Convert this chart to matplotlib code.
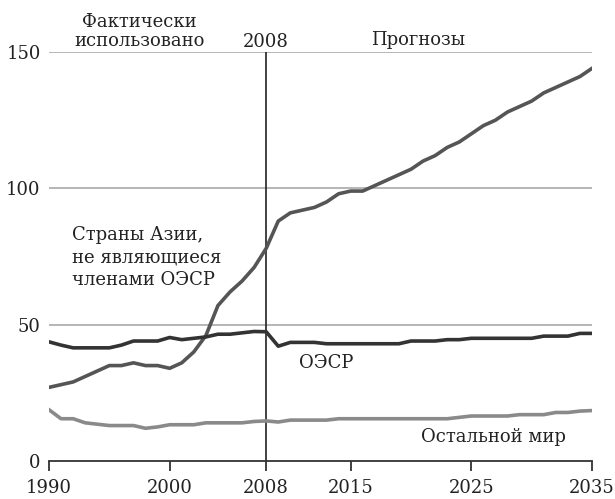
import matplotlib
matplotlib.use("Agg")
import matplotlib.pyplot as plt

years = list(range(1990, 2036))
asia = [27, 28, 29, 31, 33, 35, 35, 36, 35, 35,
        34, 36, 40, 46, 57, 62, 66, 71, 78, 88,
        91, 92, 93, 95, 98, 99, 99, 101, 103, 105,
        107, 110, 112, 115, 117, 120, 123, 125, 128, 130,
        132, 135, 137, 139, 141, 144]
oecd = [43.7, 42.5, 41.5, 41.5, 41.5, 41.5, 42.5, 44, 44, 44,
        45.3, 44.5, 45, 45.5, 46.5, 46.5, 47, 47.5, 47.4, 42.1,
        43.5, 43.5, 43.5, 43, 43, 43, 43, 43, 43, 43,
        44, 44, 44, 44.5, 44.5, 45, 45, 45, 45, 45,
        45, 45.8, 45.8, 45.8, 46.8, 46.8]
rest = [18.8, 15.5, 15.5, 14, 13.5, 13, 13, 13, 12, 12.5,
        13.3, 13.3, 13.3, 14, 14, 14, 14, 14.5, 14.7, 14.3,
        15, 15, 15, 15, 15.5, 15.5, 15.5, 15.5, 15.5, 15.5,
        15.5, 15.5, 15.5, 15.5, 16, 16.5, 16.5, 16.5, 16.5, 17,
        17, 17, 17.8, 17.8, 18.3, 18.5]
xticks = [1990, 2000, 2008, 2015, 2025, 2035]
yticks = [0, 50, 100, 150]

plt.rcParams['font.family'] = ['DejaVu Serif']
fs = 13

fig = plt.figure(figsize=(6.15, 4.99), dpi=100)
ax = fig.add_axes([49/615, 38/499, (592-49)/615, (461-52)/499])
ax.set_xlim(1990, 2035)
ax.set_ylim(0, 150)

for y in [50, 100, 150]:
    ax.axhline(y, color='#b0b0b0', lw=1.3, zorder=1)
ax.plot([2008, 2008], [0, 150], color='#222222', lw=1.2, zorder=2)

ax.plot(years, rest, color='#8a8a8a', lw=2.6, zorder=3, solid_joinstyle='round')
ax.plot(years, asia, color='#555555', lw=2.6, zorder=4, solid_joinstyle='round')
ax.plot(years, oecd, color='#333333', lw=2.6, zorder=5, solid_joinstyle='round')

for s in ['top', 'right', 'left']:
    ax.spines[s].set_visible(False)
ax.spines['bottom'].set_color('#333333')
ax.spines['bottom'].set_linewidth(1.3)
ax.set_xticks(xticks)
ax.set_xticklabels([str(t) for t in xticks], fontsize=fs, color='#222222')
ax.tick_params(axis='x', direction='out', length=7, width=1.3, color='#333333', pad=6)
ax.set_yticks(yticks)
ax.set_yticklabels([str(t) for t in yticks], fontsize=fs, color='#222222')
ax.tick_params(axis='y', length=0, pad=6)

tc = '#222222'
ax.text(1997.5, 150.8, 'Фактически\nиспользовано', ha='center', va='bottom', fontsize=fs, color=tc, linespacing=1.05)
ax.text(2008, 150.5, '2008', ha='center', va='bottom', fontsize=fs, color=tc)
ax.text(2020.6, 151, 'Прогнозы', ha='center', va='bottom', fontsize=fs, color=tc)
ax.text(1991.9, 74.7, 'Страны Азии,\nне являющиеся\nчленами ОЭСР', ha='left', va='center', fontsize=fs, color=tc, linespacing=1.3)
ax.text(2012.95, 35.9, 'ОЭСР', ha='center', va='center', fontsize=fs, color=tc)
ax.text(2026.8, 8.8, 'Остальной мир', ha='center', va='center', fontsize=fs, color=tc)

fig.savefig('out.png', dpi=100)
